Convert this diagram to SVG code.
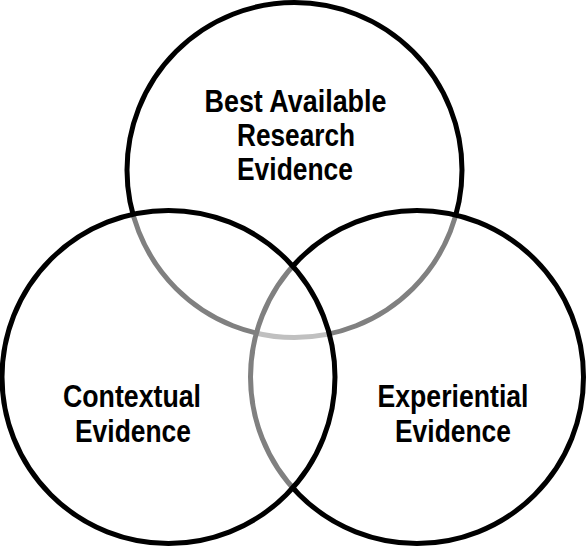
<svg xmlns="http://www.w3.org/2000/svg" width="586" height="547" viewBox="0 0 586 547">
  <style>
    .ring { fill: #ffffff; fill-opacity: 0.5; stroke: #000000; stroke-width: 5; }
    .label { font-family: "Liberation Sans Narrow", "Liberation Sans", Arial, sans-serif; font-weight: bold; font-size: 32px; fill: #000000; text-anchor: middle; }
  </style>
  <rect x="0" y="0" width="586" height="547" fill="#ffffff"/>
  <g id="node-research">
    <circle class="ring" cx="294.5" cy="170" r="167.5"/>
    <text class="label" x="295.5" y="112" textLength="182" lengthAdjust="spacingAndGlyphs">Best Available</text>
    <text class="label" x="296" y="146" textLength="118" lengthAdjust="spacingAndGlyphs">Research</text>
    <text class="label" x="295" y="180" textLength="116" lengthAdjust="spacingAndGlyphs">Evidence</text>
  </g>
  <g id="node-experiential">
    <circle class="ring" cx="417" cy="377" r="166.5"/>
    <text class="label" x="453" y="407" textLength="151" lengthAdjust="spacingAndGlyphs">Experiential</text>
    <text class="label" x="453" y="442" textLength="116" lengthAdjust="spacingAndGlyphs">Evidence</text>
  </g>
  <g id="node-contextual">
    <circle class="ring" cx="168.5" cy="377" r="166.5"/>
    <text class="label" x="132" y="407" textLength="138" lengthAdjust="spacingAndGlyphs">Contextual</text>
    <text class="label" x="133" y="442" textLength="116" lengthAdjust="spacingAndGlyphs">Evidence</text>
  </g>
</svg>
